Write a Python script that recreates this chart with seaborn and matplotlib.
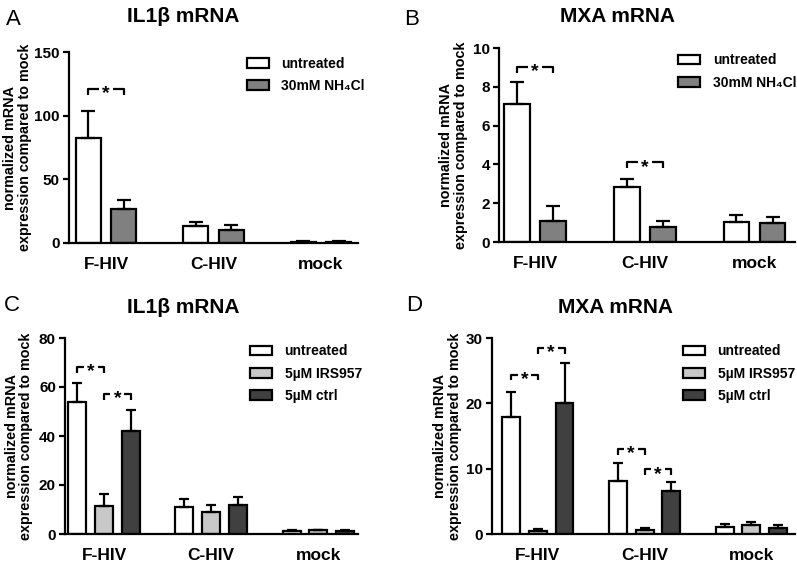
import numpy as np
import pandas as pd
import matplotlib
matplotlib.use('Agg')
import matplotlib.pyplot as plt
import seaborn as sns

# ---- data ----
groups = ['F-HIV', 'C-HIV', 'mock']

a_labels = ['untreated', '30mM NH\u2084Cl']
a_untreated = [82.5, 13.1, 1.0]
a_untreated_err = [21.5, 3.7, 0.3]
a_nh4cl = [26.4, 10.2, 1.0]
a_nh4cl_err = [7.4, 3.7, 0.3]

b_labels = ['untreated', '30mM NH\u2084Cl']
b_untreated = [7.12, 2.83, 1.01]
b_untreated_err = [1.13, 0.42, 0.36]
b_nh4cl = [1.10, 0.77, 0.98]
b_nh4cl_err = [0.73, 0.29, 0.29]

c_labels = ['untreated', '5\u00b5M IRS957', '5\u00b5M ctrl']
c_untreated = [53.7, 10.9, 1.2]
c_untreated_err = [7.9, 3.4, 0.3]
c_irs = [11.4, 8.9, 1.5]
c_irs_err = [5.1, 3.0, 0.3]
c_ctrl = [42.2, 11.7, 1.4]
c_ctrl_err = [8.5, 3.2, 0.3]

d_labels = ['untreated', '5\u00b5M IRS957', '5\u00b5M ctrl']
d_untreated = [17.9, 8.1, 1.05]
d_untreated_err = [3.8, 2.7, 0.5]
d_irs = [0.5, 0.6, 1.4]
d_irs_err = [0.25, 0.3, 0.5]
d_ctrl = [20.1, 6.6, 0.9]
d_ctrl_err = [6.1, 1.3, 0.5]

# significance brackets: (group index, series i, series j, height)
a_sig = [(0, 0, 1, 121)]
b_sig = [(0, 0, 1, 9.02), (1, 0, 1, 4.11)]
c_sig = [(0, 0, 1, 68.1), (0, 1, 2, 57.2)]
d_sig = [(0, 0, 1, 24.4), (0, 1, 2, 28.5), (1, 0, 1, 13.0), (1, 1, 2, 9.9)]

titles = ['IL1\u03b2 mRNA', 'MXA mRNA', 'IL1\u03b2 mRNA', 'MXA mRNA']
letters = ['A', 'B', 'C', 'D']
yticks = [[0, 50, 100, 150], [0, 2, 4, 6, 8, 10], [0, 20, 40, 60, 80], [0, 10, 20, 30]]
ylabel = 'normalized mRNA\nexpression compared to mock'

two_colors = ['white', '#808080']
three_colors = ['white', '#c8c8c8', '#404040']

sns.set_style('ticks')
plt.rcParams['font.family'] = ['Liberation Sans', 'DejaVu Sans']
plt.rcParams['font.weight'] = 'bold'
for key in ['text.color', 'axes.labelcolor', 'xtick.color', 'ytick.color', 'axes.edgecolor']:
    plt.rcParams[key] = 'black'

W, H = 797, 564
fig = plt.figure(figsize=(W / 100, H / 100), dpi=100)


def px_axes(l, r, t, b):
    return fig.add_axes([l / W, 1 - b / H, (r - l) / W, (b - t) / H])


panels = [
    dict(box=(69, 358, 52, 243), xlim=(-0.345, 2.345), labels=a_labels, colors=two_colors,
         vals=[a_untreated, a_nh4cl], errs=[a_untreated_err, a_nh4cl_err], sig=a_sig,
         width=0.66, gap=0.29, cap=4.7, leg=(0.615, 0.975), ylab_x=-0.128,
         title=(183, 21.7), letter=(6, 25)),
    dict(box=(499, 795, 48, 242), xlim=(-0.33, 2.37), labels=b_labels, colors=two_colors,
         vals=[b_untreated, b_nh4cl], errs=[b_untreated_err, b_nh4cl_err], sig=b_sig,
         width=0.66, gap=0.29, cap=4.7, leg=(0.605, 0.972), ylab_x=-0.105,
         title=(617, 21.7), letter=(404, 25)),
    dict(box=(65, 358, 338, 534), xlim=(-0.364, 2.37), labels=c_labels, colors=three_colors,
         vals=[c_untreated, c_irs, c_ctrl], errs=[c_untreated_err, c_irs_err, c_ctrl_err], sig=c_sig,
         width=0.75, gap=0.33, cap=3.3, leg=(0.631, 0.968), ylab_x=-0.109,
         title=(183, 313), letter=(4, 311)),
    dict(box=(492, 795, 338, 534), xlim=(-0.43, 2.41), labels=d_labels, colors=three_colors,
         vals=[d_untreated, d_irs, d_ctrl], errs=[d_untreated_err, d_irs_err, d_ctrl_err], sig=d_sig,
         width=0.75, gap=0.33, cap=3.3, leg=(0.630, 0.968), ylab_x=-0.099,
         title=(616, 313), letter=(406, 311)),
]

for k, p in enumerate(panels):
    ax = px_axes(*p['box'])
    rows = []
    for lab, vals in zip(p['labels'], p['vals']):
        for g, v in zip(groups, vals):
            rows.append({'group': g, 'treatment': lab, 'value': v})
    df = pd.DataFrame(rows)
    sns.barplot(data=df, x='group', y='value', hue='treatment', hue_order=p['labels'],
                order=groups, palette=p['colors'], saturation=1, edgecolor='black',
                linewidth=1.6, width=p['width'], gap=p['gap'], errorbar=None,
                legend=False, ax=ax)
    bar_containers = list(ax.containers)

    # one-sided error bars and bar centres
    centers = []
    for cont, errs in zip(bar_containers, p['errs']):
        xs = [b.get_x() + b.get_width() / 2 for b in cont]
        ys = [b.get_height() for b in cont]
        centers.append(xs)
        ax.errorbar(xs, ys, yerr=[np.zeros(len(errs)), errs], fmt='none', ecolor='black',
                    elinewidth=1.6, capsize=p['cap'], capthick=1.6, zorder=3)

    ymax = yticks[k][-1]
    ax.set_ylim(0, ymax)
    ax.set_yticks(yticks[k])
    ax.set_xlim(*p['xlim'])

    # significance brackets
    drop = 0.03 * ymax
    for g, i, j, h in p['sig']:
        x1, x2 = centers[i][g], centers[j][g]
        hg = 0.065
        xm = (x1 + x2) / 2
        ax.plot([x1, x1, xm - hg], [h - drop, h, h], color='black', lw=1.6, solid_capstyle='butt')
        ax.plot([xm + hg, x2, x2], [h, h, h - drop], color='black', lw=1.6, solid_capstyle='butt')
        ax.annotate('*', (xm, h), xytext=(0, -3.5), textcoords='offset points',
                    ha='center', va='center', fontsize=14, fontweight='bold')

    sns.despine(ax=ax)
    for s in ['left', 'bottom']:
        ax.spines[s].set_linewidth(1.6)
    ax.tick_params(axis='y', length=4.5, width=1.6, labelsize=11, pad=2)
    ax.tick_params(axis='x', length=0, labelsize=12.5, pad=10)
    for t in ax.get_xticklabels() + ax.get_yticklabels():
        t.set_fontweight('bold')
    ax.set_xlabel('')
    ax.set_ylabel(ylabel, fontsize=10.4, fontweight='bold', linespacing=1.05)
    ax.yaxis.set_label_coords(p['ylab_x'], 0.5)

    handles = [c.patches[0] for c in bar_containers]
    ax.legend(handles, p['labels'], loc='upper left', bbox_to_anchor=p['leg'], frameon=False,
              handlelength=1.6, handleheight=0.7, handletextpad=0.9,
              labelspacing=0.6, borderpad=0, borderaxespad=0,
              prop={'weight': 'bold', 'size': 10})

    tx, ty = p['title']
    fig.text(tx / W, 1 - ty / H, titles[k], ha='center', va='baseline', fontsize=15,
             fontweight='bold')
    lx, ly = p['letter']
    fig.text(lx / W, 1 - ly / H, letters[k], ha='left', va='baseline', fontsize=16,
             fontweight='normal')

fig.savefig('out.png', dpi=100, facecolor='white')
